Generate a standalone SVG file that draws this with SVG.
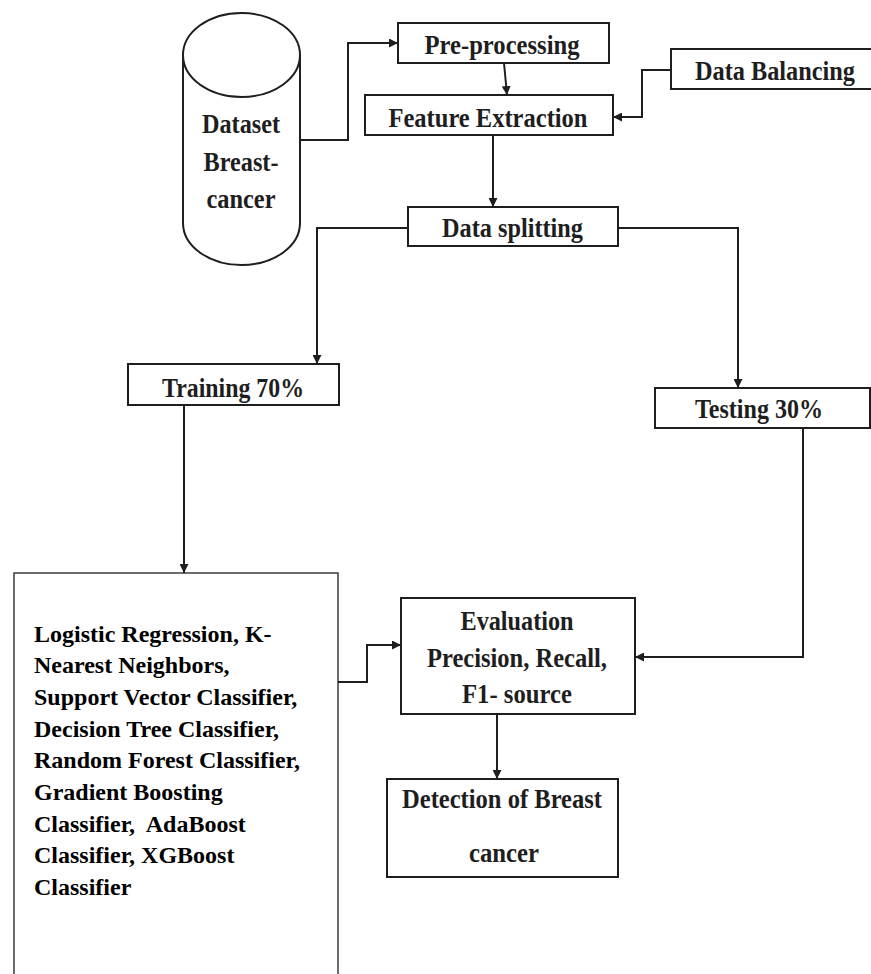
<svg xmlns="http://www.w3.org/2000/svg" width="871" height="974" viewBox="0 0 871 974">
<style>
.box{fill:#fff;stroke:#1e1e1e;stroke-width:2}
.thin{fill:#fff;stroke:#1e1e1e;stroke-width:1.3}
.lbl{font-weight:bold;font-size:27px;fill:#1e1e1e;text-anchor:middle}
.lst{font-weight:bold;font-size:24px;fill:#000}
.con{fill:none;stroke:#1e1e1e;stroke-width:2}
</style>
<defs>
<marker id="ah" viewBox="0 0 10 10" refX="10" refY="5" markerWidth="4.5" markerHeight="4.5" orient="auto" markerUnits="strokeWidth">
<path d="M0,0 L10,5 L0,10 z" fill="#1e1e1e"/>
</marker>
</defs>
<rect width="871" height="974" fill="#fff"/>
<g font-family="'Liberation Serif', 'Times New Roman', serif">
<g id="dataset">
<path class="box" d="M183,55 L183,223 A58.5,42 0 0 0 300,223 L300,55"/>
<ellipse class="box" cx="241.5" cy="55" rx="58.5" ry="42"/>
<text class="lbl" x="241" y="133" textLength="78" lengthAdjust="spacingAndGlyphs">Dataset</text>
<text class="lbl" x="241" y="171" textLength="75" lengthAdjust="spacingAndGlyphs">Breast-</text>
<text class="lbl" x="241" y="208" textLength="69" lengthAdjust="spacingAndGlyphs">cancer</text>
</g>

<g id="preprocessing">
<rect class="box" x="398" y="23" width="211" height="40"/>
<text class="lbl" x="502" y="54" textLength="155" lengthAdjust="spacingAndGlyphs">Pre-processing</text>
</g>

<g id="feature">
<rect class="box" x="365" y="95" width="248" height="40"/>
<text class="lbl" x="488" y="127" textLength="199" lengthAdjust="spacingAndGlyphs">Feature Extraction</text>
</g>

<g id="balancing">
<rect class="box" x="671" y="49" width="210" height="40"/>
<text class="lbl" x="775" y="80" textLength="160" lengthAdjust="spacingAndGlyphs">Data Balancing</text>
</g>

<g id="splitting">
<rect class="box" x="408" y="207" width="210" height="39"/>
<text class="lbl" x="512.5" y="237" textLength="141" lengthAdjust="spacingAndGlyphs">Data splitting</text>
</g>

<g id="training">
<rect class="box" x="128" y="364" width="211" height="41"/>
<text class="lbl" x="233" y="397" textLength="142" lengthAdjust="spacingAndGlyphs">Training 70%</text>
</g>

<g id="testing">
<rect class="box" x="655" y="388" width="215" height="40"/>
<text class="lbl" x="759" y="418" textLength="128" lengthAdjust="spacingAndGlyphs">Testing 30%</text>
</g>

<g id="classifiers">
<rect class="thin" x="14" y="573" width="324" height="420"/>
<text class="lst" x="34" y="642">Logistic Regression, K-</text>
<text class="lst" x="34" y="673">Nearest Neighbors,</text>
<text class="lst" x="34" y="705">Support Vector Classifier,</text>
<text class="lst" x="34" y="737">Decision Tree Classifier,</text>
<text class="lst" x="34" y="768">Random Forest Classifier,</text>
<text class="lst" x="34" y="800">Gradient Boosting</text>
<text class="lst" x="34" y="832" xml:space="preserve">Classifier,  AdaBoost</text>
<text class="lst" x="34" y="863">Classifier, XGBoost</text>
<text class="lst" x="34" y="895">Classifier</text>
</g>

<g id="evaluation">
<rect class="box" x="401" y="598" width="234" height="116"/>
<text class="lbl" x="517" y="630" textLength="113" lengthAdjust="spacingAndGlyphs">Evaluation</text>
<text class="lbl" x="517" y="667" textLength="180" lengthAdjust="spacingAndGlyphs">Precision, Recall,</text>
<text class="lbl" x="517" y="703" textLength="110" lengthAdjust="spacingAndGlyphs">F1- source</text>
</g>

<g id="detection">
<rect class="box" x="387" y="779" width="231" height="98"/>
<text class="lbl" x="502" y="808" textLength="200" lengthAdjust="spacingAndGlyphs">Detection of Breast</text>
<text class="lbl" x="504" y="862" textLength="70" lengthAdjust="spacingAndGlyphs">cancer</text>
</g>
</g>
<g id="connectors">
<polyline class="con" points="300,140 348,140 348,43 398,43" marker-end="url(#ah)"/>
<line class="con" x1="504" y1="63" x2="507" y2="95" marker-end="url(#ah)"/>
<polyline class="con" points="671,70 642,70 642,117 613,117" marker-end="url(#ah)"/>
<line class="con" x1="493" y1="135" x2="493" y2="207" marker-end="url(#ah)"/>
<polyline class="con" points="408,228 317,228 317,364" marker-end="url(#ah)"/>
<polyline class="con" points="618,228 738,228 738,388" marker-end="url(#ah)"/>
<line class="con" x1="184" y1="405" x2="184" y2="573" marker-end="url(#ah)"/>
<polyline class="con" points="338,682 367,682 367,645 401,645" marker-end="url(#ah)"/>
<polyline class="con" points="803,428 803,657 635,657" marker-end="url(#ah)"/>
<line class="con" x1="497" y1="714" x2="497" y2="779" marker-end="url(#ah)"/>
</g>
</svg>
